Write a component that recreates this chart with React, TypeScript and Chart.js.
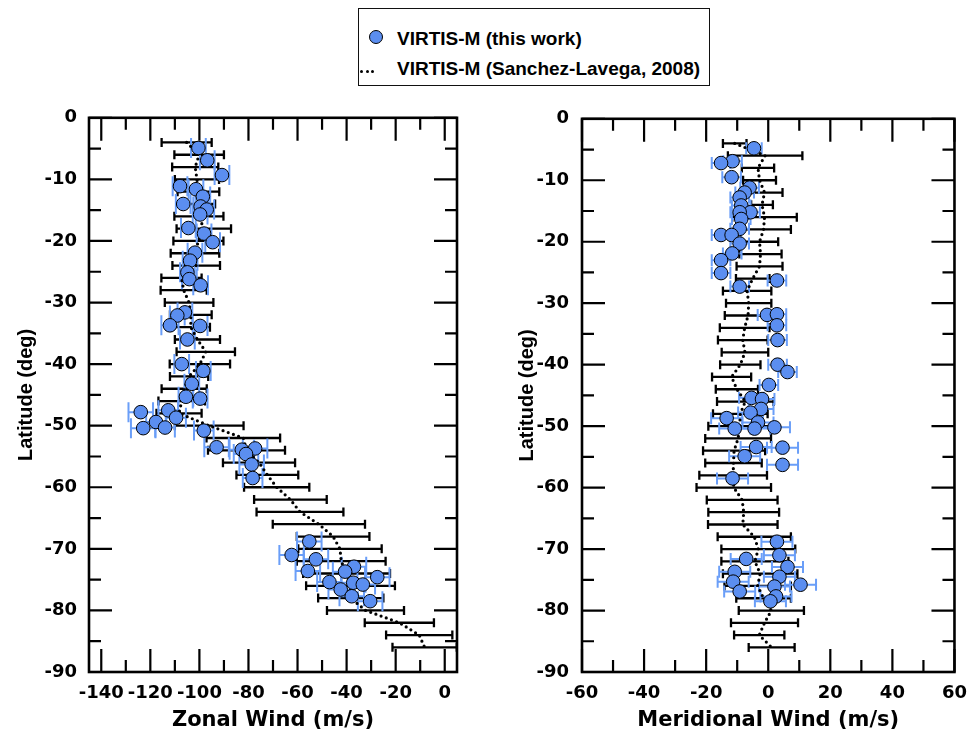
import React, { useEffect, useRef } from 'react';
import { Chart, registerables } from 'chart.js';

Chart.register(...registerables);

// ---------- tick values ----------
const latTicks = [0, -10, -20, -30, -40, -50, -60, -70, -80, -90];
const latMinorTicks = [-5, -15, -25, -35, -45, -55, -65, -75, -85];
const zonalTicks = [-140, -120, -100, -80, -60, -40, -20, 0];
const zonalMinorTicks = [-130, -110, -90, -70, -50, -30, -10];
const meridTicks = [-60, -40, -20, 0, 20, 40, 60];
const meridMinorTicks = [-50, -30, -10, 10, 30, 50];

// ---------- reference profile (Sanchez-Lavega, 2008) ----------
const refLat = [-4, -6, -8, -10, -12, -14, -16, -18, -20, -22, -24, -26, -28, -30, -32, -34, -36, -38, -40, -42, -44,
  -46, -48, -50, -52, -54, -56, -58, -60, -62, -64, -66, -68, -70, -72, -74, -76, -78, -80, -82, -84, -86];
const refZonal = [-105.2, -100.1, -101.7, -101.0, -100.4, -100.9, -100.2, -98.2, -100.4, -101.8, -101.3, -107.3,
  -106.4, -104.2, -103.5, -103.5, -100.8, -97.4, -99.8, -104.2, -106.2, -107.2, -108.3, -96.0, -82.1, -80.8, -75.7,
  -72.3, -68.5, -62.9, -59.0, -51.3, -45.5, -42.7, -42.2, -40.0, -38.4, -38.3, -32.3, -18.5, -10.4, -8.2];
const refZonalErr = [10.2, 10.1, 9.4, 9.0, 8.5, 7.3, 10.0, 11.1, 10.2, 9.9, 9.7, 8.2, 9.4, 9.9, 8.5, 7.8, 9.2, 11.9,
  12.3, 7.8, 9.2, 9.5, 9.2, 14.0, 15.0, 15.7, 14.7, 12.6, 13.3, 14.8, 17.7, 18.8, 14.8, 17.0, 18.1, 17.7, 18.1, 13.3,
  15.7, 14.1, 13.5, 13.1];
const refMerid = [-10.8, -1.0, -3.3, -2.8, -1.2, -2.0, -1.2, -1.5, -2.8, -2.5, -2.8, -5.0, -6.8, -6.3, -6.5, -7.6,
  -8.2, -7.5, -9.0, -11.8, -10.1, -7.4, -9.0, -9.2, -9.7, -11.0, -11.2, -11.3, -11.1, -8.4, -7.9, -8.2, -4.5, -3.2,
  -4.3, -2.6, -3.4, -1.5, 1.0, -1.2, -2.9, 1.1];
const refMeridErr = [3.8, 12.0, 5.2, 5.3, 5.8, 3.5, 10.4, 8.8, 6.0, 6.8, 7.4, 5.4, 7.8, 7.3, 7.5, 8.0, 8.0, 7.5, 6.5,
  6.3, 6.8, 9.1, 8.8, 10.1, 10.6, 10.0, 9.1, 10.9, 12.0, 11.4, 11.4, 11.2, 11.8, 11.9, 10.8, 12.0, 10.7, 8.8, 10.5,
  10.8, 8.1, 7.4];

// ---------- VIRTIS-M (this work): zonal ----------
const zonalLat = [-4.9, -6.9, -9.3, -11.1, -11.6, -12.8, -14.0, -14.4, -14.9, -15.7, -17.9, -18.8, -20.2, -21.9,
  -23.2, -25.1, -26.2, -27.2, -31.6, -32.1, -33.7, -33.8, -36.0, -40.0, -41.1, -43.2, -45.3, -45.6, -47.5, -47.8,
  -48.7, -49.4, -50.3, -50.4, -50.8, -53.5, -53.7, -53.9, -54.6, -56.3, -58.5, -68.8, -71.0, -71.7, -72.9, -73.6,
  -73.7, -74.6, -75.4, -75.5, -75.8, -76.6, -77.7, -78.5];
const zonalWind = [-100.4, -96.8, -90.8, -107.9, -101.4, -98.6, -106.6, -99.5, -97.0, -99.7, -104.5, -98.1, -94.6,
  -101.8, -103.8, -104.9, -104.1, -99.5, -105.9, -109.0, -112.0, -99.7, -104.9, -107.2, -98.4, -103.1, -105.5, -99.7,
  -112.7, -123.9, -109.5, -117.7, -114.0, -122.9, -98.2, -93.0, -77.3, -82.7, -81.0, -78.7, -78.3, -55.2, -62.4,
  -52.5, -37.0, -55.8, -40.6, -27.5, -47.0, -37.3, -33.4, -42.4, -37.9, -30.4];
const zonalErr = [3, 3, 3, 3, 3, 3, 3, 3, 3, 3, 3, 3, 3, 3, 3, 3, 3, 3, 3, 3, 3.5, 3, 3, 3, 3, 3, 3, 3, 4, 5, 4, 4,
  4, 5, 4, 5, 5, 5, 5, 5, 4, 5, 5, 5, 5, 5, 5, 5, 5, 5, 5, 5, 5, 5];

// ---------- VIRTIS-M (this work): meridional ----------
const meridLat = [-4.8, -6.9, -7.2, -9.5, -11.2, -12.0, -12.8, -14.1, -15.2, -15.2, -16.3, -17.9, -18.9, -18.9,
  -20.3, -21.9, -23.0, -25.1, -26.3, -27.3, -31.9, -31.8, -33.6, -36.0, -40.0, -41.2, -43.3, -45.4, -45.6, -47.2,
  -47.8, -48.7, -49.4, -50.2, -50.4, -50.4, -53.4, -53.5, -54.9, -56.3, -58.5, -68.8, -71.0, -71.6, -72.9, -73.7,
  -74.5, -75.3, -75.8, -76.1, -76.9, -77.7, -78.5];
const meridWind = [-4.6, -11.5, -15.2, -11.8, -6.0, -7.6, -9.2, -8.7, -5.7, -9.2, -8.7, -9.2, -15.2, -11.8, -9.2,
  -11.6, -15.2, -15.2, 2.8, -9.2, -0.4, 2.8, 2.8, 3.0, 3.0, 6.2, 0.2, -5.4, -2.0, -2.3, -5.7, -13.4, -3.3, 2.0, -10.8,
  -4.4, -3.9, 4.6, -7.6, 4.6, -11.5, 2.8, 3.6, -7.1, 6.2, -10.8, 3.6, -11.3, 10.4, 2.0, -9.2, 2.5, 0.7];
const meridErr = [2.5, 3, 3, 3, 3, 3, 3, 3, 3, 3, 3, 3, 3, 3, 3, 3, 3, 3, 3, 3, 3, 3, 3, 3, 3, 3, 3, 4, 4, 4, 4, 5, 5,
  5, 5, 5, 5, 5, 5, 5, 5, 5, 5, 5, 5, 5, 5, 5, 5, 5, 5, 5, 5];

const POINT_FILL = '#5b8ef0';
const BLUE_BAR = '#6a9ef8';
const TICK_FONT = { family: "'DejaVu Sans', sans-serif", weight: 'bold' as const, size: 18 };
const XTITLE_FONT = { family: "'DejaVu Sans', sans-serif", weight: 'bold' as const, size: 21 };
const YTITLE_FONT = { family: "'Liberation Sans', Arial, sans-serif", weight: 'bold' as const, size: 20 };

type PanelProps = {
  xMin: number; xMax: number; xTicks: number[]; xMinor: number[]; xTitle: string;
  lat: number[]; val: number[]; err: number[];
  rLat: number[]; rVal: number[]; rErr: number[];
  yWidth: number; padRight: number; yLabelPad: number; yTitlePad: number; capHalf: number;
};

function drawBars(ctx: CanvasRenderingContext2D, xs: any, ys: any, lat: number[], val: number[], err: number[],
  color: string, lw: number, cap: number) {
  ctx.strokeStyle = color;
  ctx.lineWidth = lw;
  ctx.lineCap = 'butt';
  for (let i = 0; i < lat.length; i++) {
    const y = ys.getPixelForValue(lat[i]);
    const x1 = xs.getPixelForValue(val[i] - err[i]);
    const x2 = xs.getPixelForValue(val[i] + err[i]);
    ctx.beginPath();
    ctx.moveTo(x1, y); ctx.lineTo(x2, y);
    ctx.moveTo(x1, y - cap); ctx.lineTo(x1, y + cap);
    ctx.moveTo(x2, y - cap); ctx.lineTo(x2, y + cap);
    ctx.stroke();
  }
}

function Panel(p: PanelProps & { left: number; width: number }) {
  const ref = useRef<HTMLCanvasElement>(null);
  useEffect(() => {
    const canvas = ref.current!;
    const framePlugin = {
      id: 'frameAndBars',
      beforeDatasetsDraw(chart: any) {
        const { ctx, scales } = chart;
        ctx.save();
        drawBars(ctx, scales.x, scales.y, p.rLat, p.rVal, p.rErr, '#000', 2.3, 4.5);
        drawBars(ctx, scales.x, scales.y, p.lat, p.val, p.err, BLUE_BAR, 2, p.capHalf);
        ctx.restore();
      },
      afterDraw(chart: any) {
        const { ctx, chartArea, scales } = chart;
        const { left, right, top, bottom } = chartArea;
        const xs = scales.x, ys = scales.y;
        ctx.save();
        ctx.strokeStyle = '#000';
        ctx.lineWidth = 2.2;
        ctx.beginPath();
        const major = 23, minor = 12;
        const vx = (v: number, len: number) => {
          const px = xs.getPixelForValue(v);
          ctx.moveTo(px, bottom); ctx.lineTo(px, bottom - len);
          ctx.moveTo(px, top); ctx.lineTo(px, top + len);
        };
        const hy = (v: number, len: number) => {
          const py = ys.getPixelForValue(v);
          ctx.moveTo(left, py); ctx.lineTo(left + len, py);
          ctx.moveTo(right, py); ctx.lineTo(right - len, py);
        };
        p.xTicks.forEach(v => vx(v, major));
        p.xMinor.forEach(v => vx(v, minor));
        latTicks.forEach(v => hy(v, major));
        latMinorTicks.forEach(v => hy(v, minor));
        ctx.stroke();
        ctx.lineWidth = 2.6;
        ctx.strokeRect(left, top, right - left, bottom - top);
        ctx.restore();
      },
    };
    const chart = new Chart(canvas, {
      type: 'scatter',
      data: {
        datasets: [
          {
            label: 'VIRTIS-M (this work)',
            data: p.lat.map((l, i) => ({ x: p.val[i], y: l })),
            pointRadius: 6.8,
            pointBackgroundColor: POINT_FILL,
            pointBorderColor: '#000',
            pointBorderWidth: 1,
            showLine: false,
          },
          {
            label: 'VIRTIS-M (Sanchez-Lavega, 2008)',
            data: p.rLat.map((l, i) => ({ x: p.rVal[i], y: l })),
            showLine: true,
            pointRadius: 0,
            borderColor: '#000',
            borderWidth: 3.2,
            borderDash: [0, 5.5],
            borderCapStyle: 'round',
            fill: false,
          },
        ],
      },
      options: {
        responsive: false,
        devicePixelRatio: 1,
        animation: false,
        events: [],
        layout: { padding: { left: 0, right: p.padRight, top: 15, bottom: 0 } },
        plugins: { legend: { display: false }, tooltip: { enabled: false } },
        scales: {
          x: {
            type: 'linear',
            position: 'bottom',
            min: p.xMin,
            max: p.xMax,
            afterBuildTicks: (s: any) => { s.ticks = p.xTicks.map(v => ({ value: v })); },
            afterFit: (s: any) => { s.height = 63; },
            grid: { display: false, drawTicks: false },
            border: { display: false },
            ticks: {
              font: TICK_FONT, color: '#000', padding: 11, autoSkip: false, maxRotation: 0, minRotation: 0,
              callback: (v: any) => String(v),
            },
            title: { display: true, text: p.xTitle, font: XTITLE_FONT, color: '#000', padding: { top: 0, bottom: 1.5 } },
          },
          y: {
            type: 'linear',
            position: 'left',
            min: -90,
            max: 0,
            afterBuildTicks: (s: any) => { s.ticks = latTicks.map(v => ({ value: v })); },
            afterFit: (s: any) => { s.width = p.yWidth; },
            grid: { display: false, drawTicks: false },
            border: { display: false },
            ticks: { font: TICK_FONT, color: '#000', padding: p.yLabelPad, autoSkip: false, callback: (v: any) => String(v) },
            title: { display: true, text: 'Latitude (deg)', font: YTITLE_FONT, color: '#000', padding: { top: p.yTitlePad, bottom: 0 } },
          },
        },
      } as any,
      plugins: [framePlugin],
    });
    return () => chart.destroy();
  }, []);
  return (
    <canvas ref={ref} width={p.width} height={640}
      style={{ position: 'absolute', left: p.left, top: 95, width: p.width, height: 640, display: 'block' }} />
  );
}

function Legend() {
  const text: React.CSSProperties = {
    position: 'absolute', left: 38, fontFamily: "'Liberation Sans', Arial, sans-serif", fontWeight: 'bold',
    fontSize: 19, lineHeight: '19px', color: '#000', whiteSpace: 'nowrap',
  };
  const dot = (x: number): React.CSSProperties => ({
    position: 'absolute', left: x, top: 60.5, width: 3.4, height: 3.4, borderRadius: '50%', background: '#000',
  });
  return (
    <div style={{ position: 'absolute', left: 358, top: 8, width: 352, height: 78, border: '1.5px solid #111',
      boxSizing: 'border-box', background: '#fff' }}>
      <div style={{ position: 'absolute', left: 9.5, top: 21, width: 12, height: 12, borderRadius: '50%',
        background: POINT_FILL, border: '1px solid #000' }} />
      <span style={{ ...text, top: 20 }}>VIRTIS-M (this work)</span>
      <div style={dot(1)} />
      <div style={dot(6.5)} />
      <div style={dot(12)} />
      <span style={{ ...text, top: 50 }}>VIRTIS-M (Sanchez-Lavega, 2008)</span>
    </div>
  );
}

export default function App() {
  return (
    <div style={{ position: 'absolute', left: 0, top: 0, width: 978, height: 735, background: '#fff', overflow: 'hidden' }}>
      <Panel left={0} width={475} xMin={-145} xMax={5} xTicks={zonalTicks} xMinor={zonalMinorTicks}
        xTitle="Zonal Wind (m/s)" lat={zonalLat} val={zonalWind} err={zonalErr}
        rLat={refLat} rVal={refZonal} rErr={refZonalErr}
        yWidth={89} padRight={18} yLabelPad={12} yTitlePad={14} capHalf={10} />
      <Panel left={490} width={488} xMin={-60} xMax={60} xTicks={meridTicks} xMinor={meridMinorTicks}
        xTitle="Meridional Wind (m/s)" lat={meridLat} val={meridWind} err={meridErr}
        rLat={refLat} rVal={refMerid} rErr={refMeridErr}
        yWidth={92} padRight={19} yLabelPad={13} yTitlePad={25} capHalf={6} />
      <Legend />
    </div>
  );
}
